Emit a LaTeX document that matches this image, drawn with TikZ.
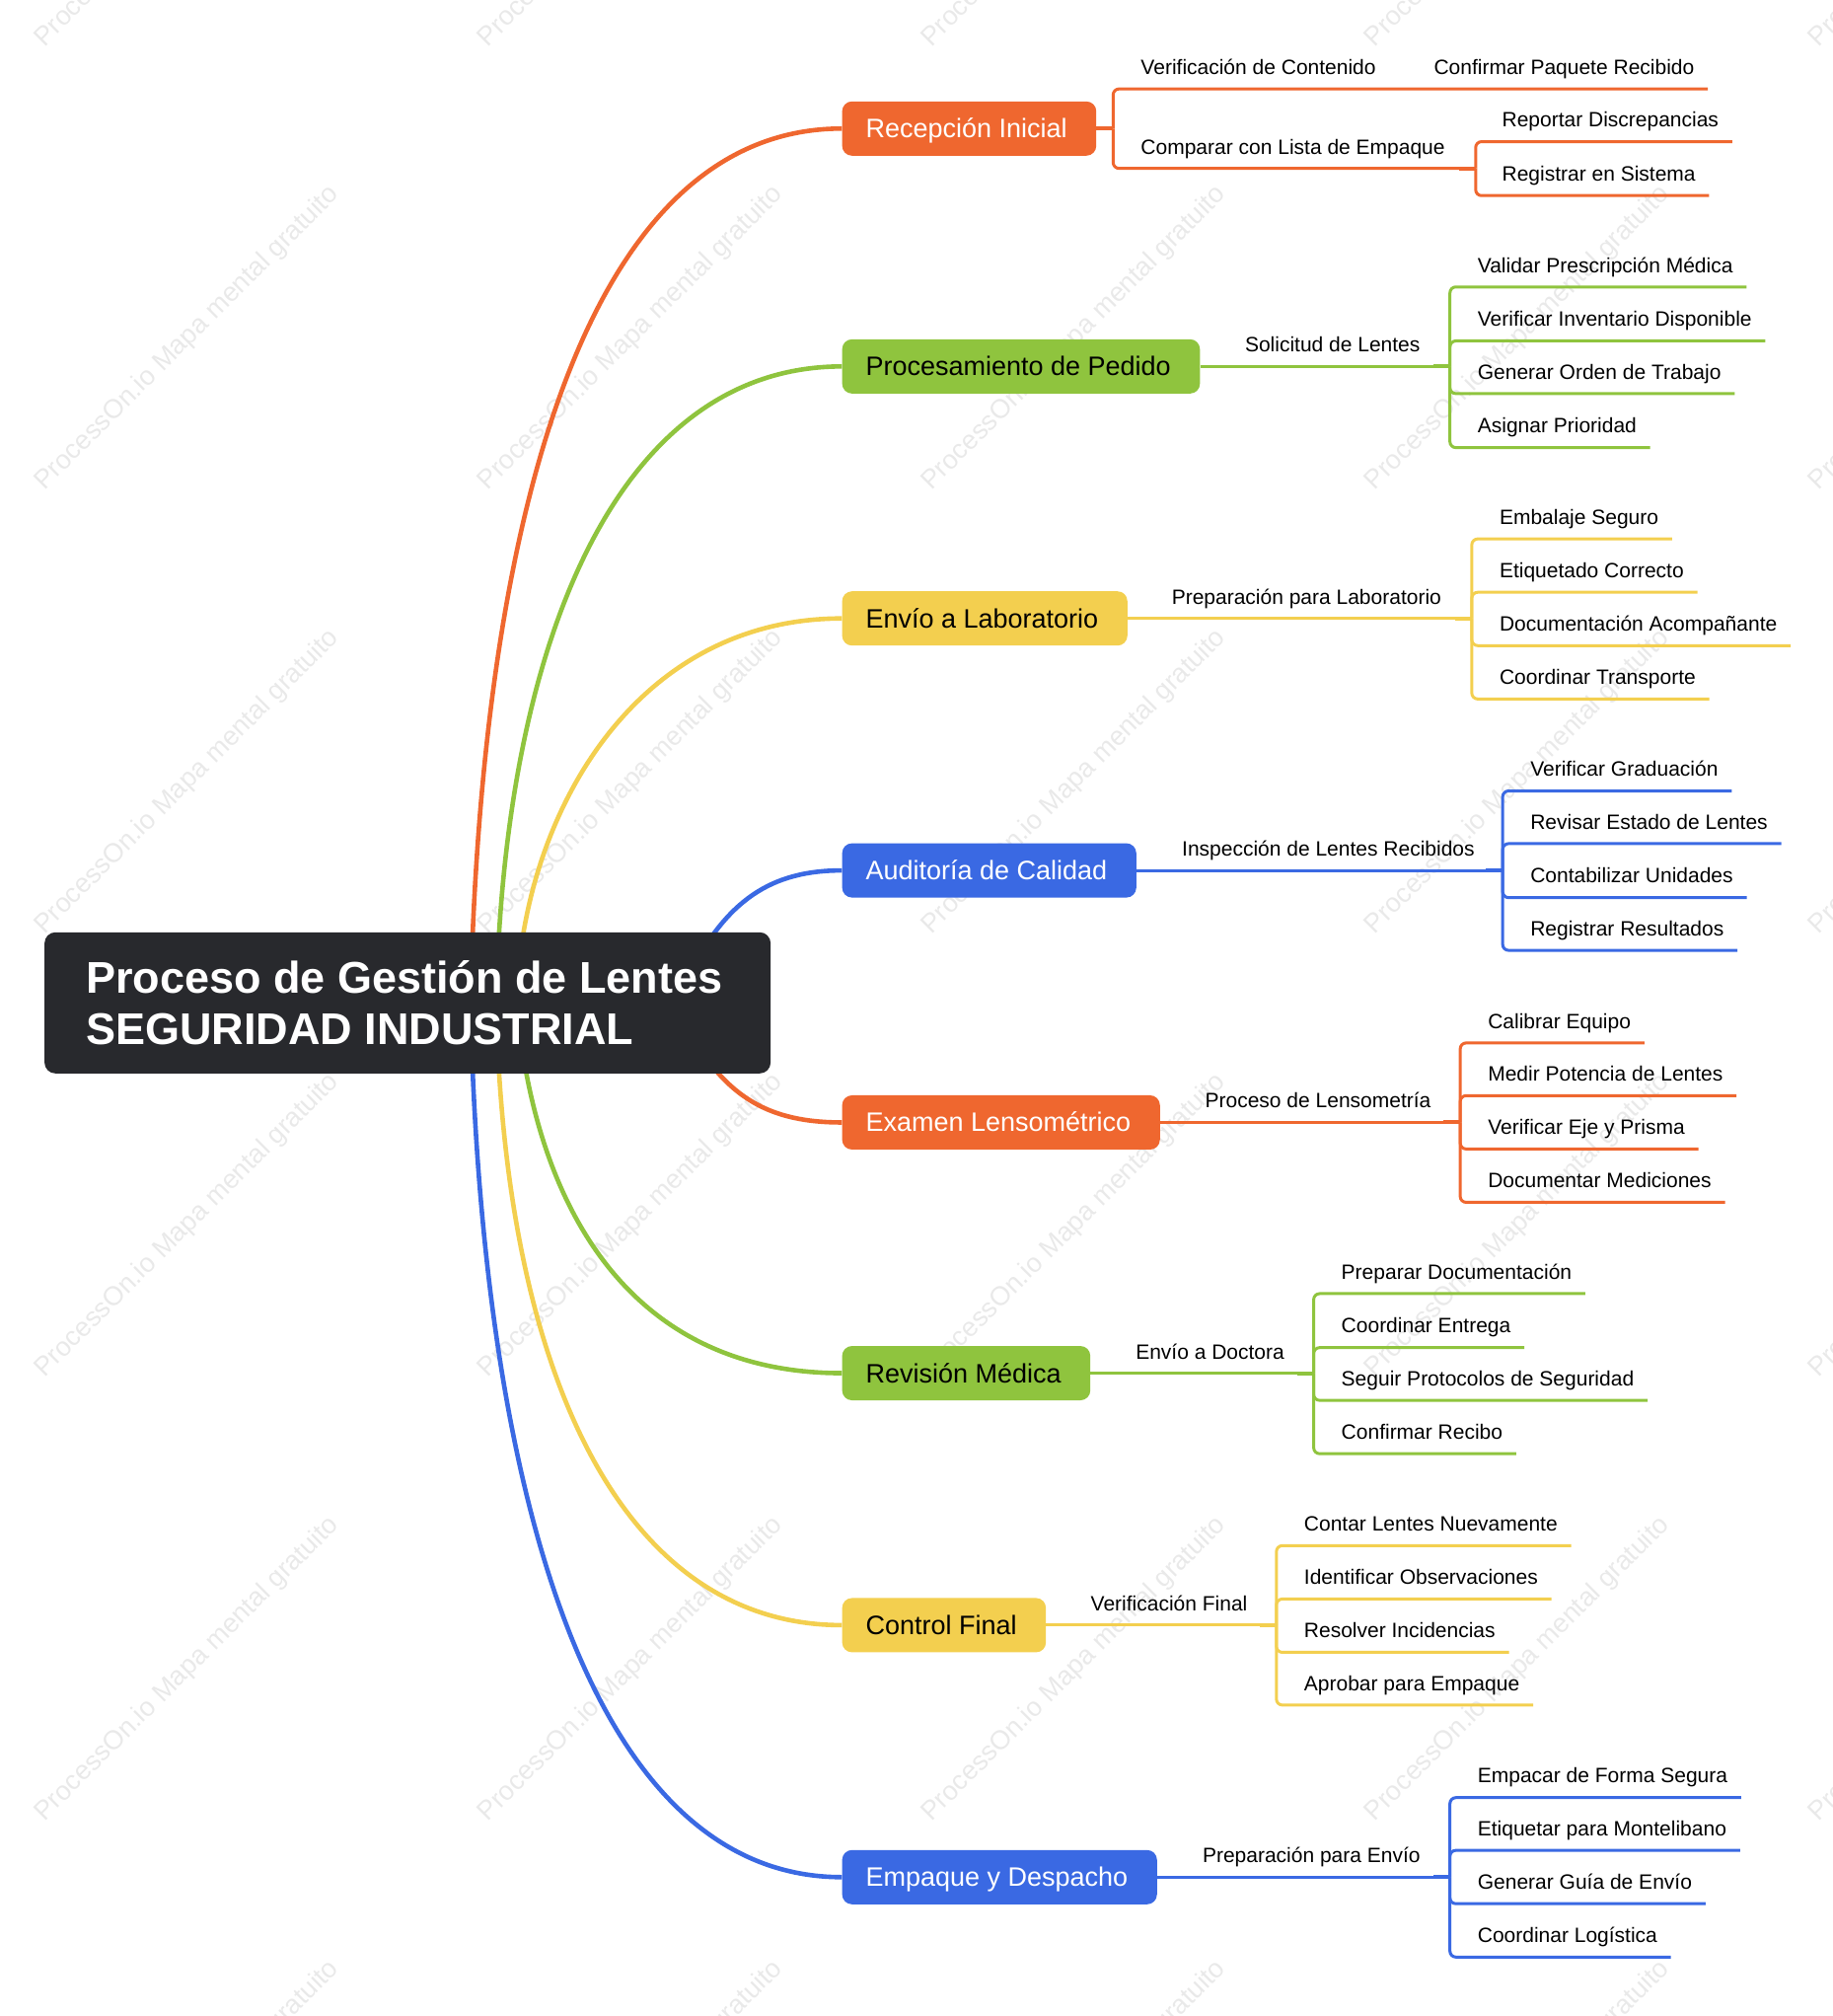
\documentclass[tikz,border=0pt]{standalone}
\usepackage{fontspec}
\setmainfont{Liberation Sans}
\usetikzlibrary{backgrounds}
\definecolor{cOrange}{HTML}{EF672F}
\definecolor{cGreen}{HTML}{8FC43E}
\definecolor{cYellow}{HTML}{F3CF4F}
\definecolor{cBlue}{HTML}{3A69E3}
\definecolor{cDark}{HTML}{28292D}
\definecolor{cMark}{HTML}{E9E9E9}
\tikzset{
  rootbox/.style={rectangle, rounded corners=11pt, fill=cDark, text=white, anchor=west,
    font=\fontsize{45}{52}\selectfont\bfseries, text width=652pt, inner xsep=42pt, minimum height=143pt,
    execute at begin node={\spaceskip=0pt\relax\xspaceskip=0pt\relax}},
  topic/.style={rectangle, rounded corners=10pt, anchor=west, inner xsep=24pt, minimum height=55pt,
    font=\fontsize{27}{30}\selectfont, text height=25pt, text depth=6pt, execute at end node=\hspace*{5.5pt}},
  leaf/.style={anchor=west, xshift=2.6pt, inner xsep=13.6pt, inner ysep=0pt, minimum height=44.3pt,
    font=\fontsize{21}{24}\selectfont, text height=20pt, text depth=4.8pt},
  trunk/.style={line width=4.6pt},
  twig/.style={line width=3pt, rounded corners=6pt},
  stub/.style={line width=4pt},
  wmark/.style={rotate=45, anchor=west, text=cMark, font=\fontsize{27}{30}\selectfont},
}
\begin{document}
\begin{tikzpicture}[x=1.303pt, y=-1.303pt]
    \useasboundingbox (0,0) rectangle (1425.9,1568);

    \node[rootbox] (root) at (34.5,780) {Proceso de Gestión de Lentes\\SEGURIDAD INDUSTRIAL};

    \node[topic, fill=cOrange, text=white] (rec) at (655,100) {Recepción Inicial};
    \node[topic, fill=cGreen] (ped) at (655,285) {Procesamiento de Pedido};
    \node[topic, fill=cYellow] (lab) at (655,481) {Envío a Laboratorio};
    \node[topic, fill=cBlue, text=white] (aud) at (655,677) {Auditoría de Calidad};
    \node[topic, fill=cOrange, text=white] (exa) at (655,873) {Examen Lensométrico};
    \node[topic, fill=cGreen] (rev) at (655,1068) {Revisión Médica};
    \node[topic, fill=cYellow] (con) at (655,1264) {Control Final};
    \node[topic, fill=cBlue, text=white] (emp) at (655,1460) {Empaque y Despacho};

    % Recepcion
    \coordinate (frec) at (866,100);
    \coordinate (fcom) at (1148,131);
    \node[leaf] (rec1) at (875,52) {Verificación de Contenido};
    \node[leaf] (rec2) at (875,114) {Comparar con Lista de Empaque};
    \node[leaf] (rec3) at (1103,52) {Confirmar Paquete Recibido};
    \node[leaf] (rec4) at (1156,93) {Reportar Discrepancias};
    \node[leaf] (rec5) at (1156,135) {Registrar en Sistema};
    \draw[stub, cOrange] (rec.east) -- (frec);
    \draw[twig, cOrange] (frec) |- (rec3.south east);
    \draw[twig, cOrange] (frec) |- (fcom);
    \draw[stub, cOrange] (fcom) -- ++(-13,0);
    \draw[twig, cOrange] (fcom) |- (rec4.south east);
    \draw[twig, cOrange] (fcom) |- (rec5.south east);

    % Pedido
    \coordinate (fped) at (1128,285);
    \node[leaf] (ped0) at (956,268) {Solicitud de Lentes};
    \node[leaf] (ped1) at (1137,206) {Validar Prescripción Médica};
    \node[leaf] (ped2) at (1137,248) {Verificar Inventario Disponible};
    \node[leaf] (ped3) at (1137,289) {Generar Orden de Trabajo};
    \node[leaf] (ped4) at (1137,331) {Asignar Prioridad};
    \draw[twig, cGreen] (ped.east) -- (fped);
    \draw[stub, cGreen] (fped) -- ++(-13,0);
    \draw[twig, cGreen] (fped) |- (ped1.south east);
    \draw[twig, cGreen] (fped) |- (ped2.south east);
    \draw[twig, cGreen] (fped) |- (ped3.south east);
    \draw[twig, cGreen] (fped) |- (ped4.south east);

    % Laboratorio
    \coordinate (flab) at (1145,481);
    \node[leaf] (lab0) at (899,464) {Preparación para Laboratorio};
    \node[leaf] (lab1) at (1154,402) {Embalaje Seguro};
    \node[leaf] (lab2) at (1154,443.5) {Etiquetado Correcto};
    \node[leaf] (lab3) at (1154,485) {Documentación Acompañante};
    \node[leaf] (lab4) at (1154,526.5) {Coordinar Transporte};
    \draw[twig, cYellow] (lab.east) -- (flab);
    \draw[stub, cYellow] (flab) -- ++(-13,0);
    \draw[twig, cYellow] (flab) |- (lab1.south east);
    \draw[twig, cYellow] (flab) |- (lab2.south east);
    \draw[twig, cYellow] (flab) |- (lab3.south east);
    \draw[twig, cYellow] (flab) |- (lab4.south east);

    % Auditoria
    \coordinate (faud) at (1169,677);
    \node[leaf] (aud0) at (907,660) {Inspección de Lentes Recibidos};
    \node[leaf] (aud1) at (1178,598) {Verificar Graduación};
    \node[leaf] (aud2) at (1178,639) {Revisar Estado de Lentes};
    \node[leaf] (aud3) at (1178,681) {Contabilizar Unidades};
    \node[leaf] (aud4) at (1178,722) {Registrar Resultados};
    \draw[twig, cBlue] (aud.east) -- (faud);
    \draw[stub, cBlue] (faud) -- ++(-13,0);
    \draw[twig, cBlue] (faud) |- (aud1.south east);
    \draw[twig, cBlue] (faud) |- (aud2.south east);
    \draw[twig, cBlue] (faud) |- (aud3.south east);
    \draw[twig, cBlue] (faud) |- (aud4.south east);

    % Examen
    \coordinate (fexa) at (1136,873);
    \node[leaf] (exa0) at (925,856) {Proceso de Lensometría};
    \node[leaf] (exa1) at (1145,794) {Calibrar Equipo};
    \node[leaf] (exa2) at (1145,835) {Medir Potencia de Lentes};
    \node[leaf] (exa3) at (1145,876.5) {Verificar Eje y Prisma};
    \node[leaf] (exa4) at (1145,918) {Documentar Mediciones};
    \draw[twig, cOrange] (exa.east) -- (fexa);
    \draw[stub, cOrange] (fexa) -- ++(-13,0);
    \draw[twig, cOrange] (fexa) |- (exa1.south east);
    \draw[twig, cOrange] (fexa) |- (exa2.south east);
    \draw[twig, cOrange] (fexa) |- (exa3.south east);
    \draw[twig, cOrange] (fexa) |- (exa4.south east);

    % Revision
    \coordinate (frev) at (1022,1068);
    \node[leaf] (rev0) at (871,1051.5) {Envío a Doctora};
    \node[leaf] (rev1) at (1031,989) {Preparar Documentación};
    \node[leaf] (rev2) at (1031,1031) {Coordinar Entrega};
    \node[leaf] (rev3) at (1031,1072) {Seguir Protocolos de Seguridad};
    \node[leaf] (rev4) at (1031,1113.5) {Confirmar Recibo};
    \draw[twig, cGreen] (rev.east) -- (frev);
    \draw[stub, cGreen] (frev) -- ++(-13,0);
    \draw[twig, cGreen] (frev) |- (rev1.south east);
    \draw[twig, cGreen] (frev) |- (rev2.south east);
    \draw[twig, cGreen] (frev) |- (rev3.south east);
    \draw[twig, cGreen] (frev) |- (rev4.south east);

    % Control
    \coordinate (fcon) at (993,1264);
    \node[leaf] (con0) at (836,1247) {Verificación Final};
    \node[leaf] (con1) at (1002,1185) {Contar Lentes Nuevamente};
    \node[leaf] (con2) at (1002,1226.5) {Identificar Observaciones};
    \node[leaf] (con3) at (1002,1268) {Resolver Incidencias};
    \node[leaf] (con4) at (1002,1309) {Aprobar para Empaque};
    \draw[twig, cYellow] (con.east) -- (fcon);
    \draw[stub, cYellow] (fcon) -- ++(-13,0);
    \draw[twig, cYellow] (fcon) |- (con1.south east);
    \draw[twig, cYellow] (fcon) |- (con2.south east);
    \draw[twig, cYellow] (fcon) |- (con3.south east);
    \draw[twig, cYellow] (fcon) |- (con4.south east);

    % Empaque
    \coordinate (femp) at (1128,1460);
    \node[leaf] (emp0) at (923,1443) {Preparación para Envío};
    \node[leaf] (emp1) at (1137,1381) {Empacar de Forma Segura};
    \node[leaf] (emp2) at (1137,1422) {Etiquetar para Montelibano};
    \node[leaf] (emp3) at (1137,1463.5) {Generar Guía de Envío};
    \node[leaf] (emp4) at (1137,1505) {Coordinar Logística};
    \draw[twig, cBlue] (emp.east) -- (femp);
    \draw[stub, cBlue] (femp) -- ++(-13,0);
    \draw[twig, cBlue] (femp) |- (emp1.south east);
    \draw[twig, cBlue] (femp) |- (emp2.south east);
    \draw[twig, cBlue] (femp) |- (emp3.south east);
    \draw[twig, cBlue] (femp) |- (emp4.south east);

    \begin{pgfonlayer}{background}
        % repeated watermark
        \begin{scope}
            \clip (0,0) rectangle (1425.9,1568);
            \foreach \x in {29,374,719,1064,1409}
                \foreach \y in {35,380,725,1070,1415,1760}
                    \node[wmark] (wm\x\y) at (\x,\y) {ProcessOn.io Mapa mental gratuito};
        \end{scope}
        \coordinate (r1) at (366,780);
        \coordinate (r2) at (386,780);
        \coordinate (r3) at (402,780);
        \coordinate (r4) at (535,760);
        \coordinate (r5) at (535,800);
        \draw[trunk, cOrange] (r1) .. controls (374,420) and (450,100) .. (rec.west);
        \draw[trunk, cGreen] (r2) .. controls (392,500) and (480,285) .. (ped.west);
        \draw[trunk, cYellow] (r3) .. controls (405,640) and (490,481) .. (lab.west);
        \draw[trunk, cBlue] (r4) .. controls (565,700) and (600,677) .. (aud.west);
        \draw[trunk, cOrange] (r5) .. controls (565,855) and (600,873) .. (exa.west);
        \draw[trunk, cGreen] (r3) .. controls (415,930) and (484,1068) .. (rev.west);
        \draw[trunk, cYellow] (r2) .. controls (392,1060) and (480,1264) .. (con.west);
        \draw[trunk, cBlue] (r1) .. controls (374,1140) and (452,1460) .. (emp.west);
    \end{pgfonlayer}
\end{tikzpicture}
\end{document}
